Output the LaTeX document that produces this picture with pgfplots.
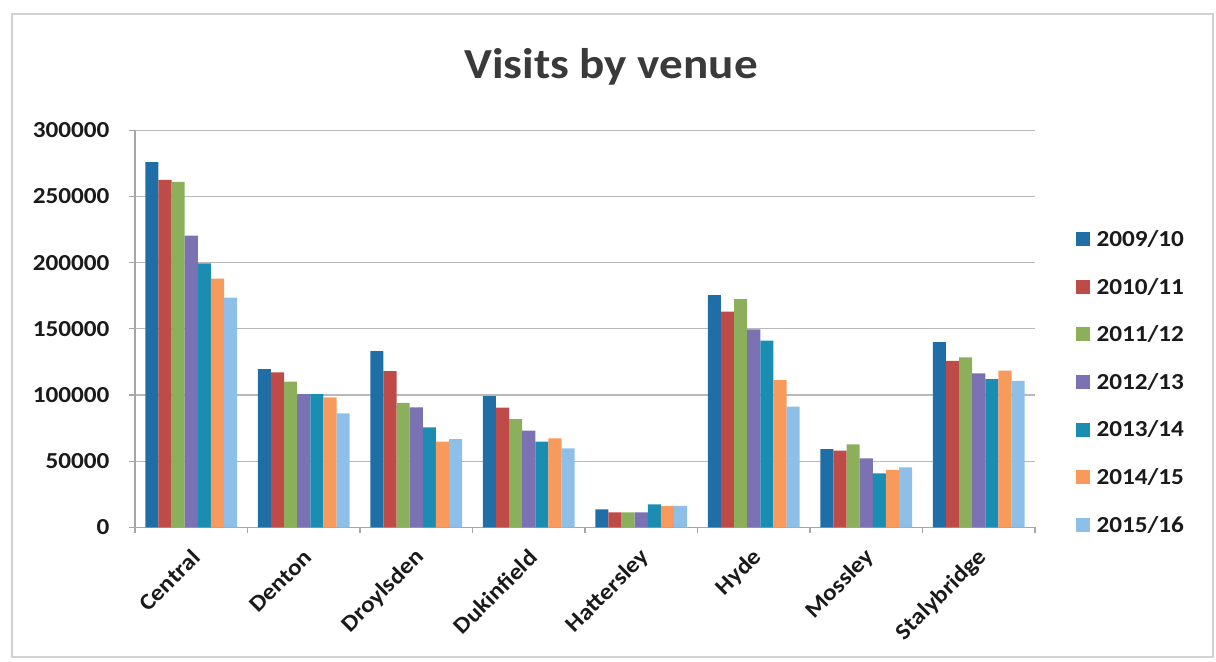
\documentclass[border=0pt]{standalone}
\usepackage{fontspec}
\setmainfont{Carlito}[FakeStretch=1.1]
\usepackage{pgfplots}
\pgfplotsset{compat=1.18}
\usepackage{pgfplotstable}
\definecolor{c1}{HTML}{1F6EA6}
\definecolor{c2}{HTML}{BE4B48}
\definecolor{c3}{HTML}{8CAF5B}
\definecolor{c4}{HTML}{7A72B2}
\definecolor{c5}{HTML}{1B8DB3}
\definecolor{c6}{HTML}{F79A5B}
\definecolor{c7}{HTML}{8DBFE8}
\definecolor{titlegray}{HTML}{3A3A3A}
\definecolor{labelgray}{HTML}{1A1A1A}
\pgfplotsset{
  /pgfplots/ybar legend/.style={/pgfplots/legend image code/.code={\fill[##1] (0bp,-7bp) rectangle (14bp,7bp); \path (19bp,0bp);}},
}
\pgfplotstableread{
x a b c d e f g
0 276000 262500 261000 220500 199500 188000 173500
1 119500 117000 110000 100700 100700 98200 86100
2 133200 118000 94100 90600 75500 64700 66700
3 99200 90400 81800 73000 64700 67200 59700
4 13600 11300 11300 11300 17400 16100 16100
5 175500 162900 172400 149500 141000 111300 91100
6 59100 57900 62700 52100 40800 43300 45300
7 140000 125800 128400 116300 112000 118300 110700
}\data
\begin{document}
\begin{tikzpicture}
\path[use as bounding box] (0,0) rectangle (1216bp,662bp);
\draw[gray!35, line width=1.5bp] (12bp,5bp) rectangle (1213bp,648bp);
\node[font=\fontsize{43}{50}\selectfont\bfseries, text=titlegray, anchor=base, inner sep=0pt] at (611bp,583.7bp) {Visits by venue};
\begin{axis}[
  at={(135bp,134.7bp)}, anchor=south west,
  scale only axis, width=900bp, height=397bp,
  ybar=0pt, bar width=0.1166,
  xmin=-0.5, xmax=7.5, ymin=0, ymax=300000,
  axis x line*=bottom, axis y line*=left,
  axis line style={gray!70, line width=1.2bp},
  ymajorgrids, grid style={gray!55, line width=1.2bp},
  ytick={0,50000,...,300000},
  scaled y ticks=false,
  xtick={-0.5,0.5,...,7.5},
  x tick label as interval=true,
  xticklabels={Central,Denton,Droylsden,Dukinfield,Hattersley,Hyde,Mossley,Stalybridge},
  tick align=outside, major tick length=6bp,
  tick style={gray!70, line width=1.2bp},
  y tick label style={font=\fontsize{23}{27}\selectfont\bfseries, text=labelgray, xshift=-16bp,
    /pgf/number format/.cd, fixed, 1000 sep={}, assume math mode=true},
  x tick label style={font=\fontsize{23}{27}\selectfont\bfseries, text=labelgray, xshift=7bp, yshift=-18bp, rotate=45, anchor=east},
  legend style={at={(1.042,0.366)}, anchor=west, draw=none, fill=none,
    font=\fontsize{23}{27}\selectfont\bfseries, text=labelgray, row sep=27bp,
    nodes={inner sep=1.5bp}},
  legend cell align=left,
]
\addplot[fill=c1, draw=none] table[x=x,y=a]{\data};
\addplot[fill=c2, draw=none] table[x=x,y=b]{\data};
\addplot[fill=c3, draw=none] table[x=x,y=c]{\data};
\addplot[fill=c4, draw=none] table[x=x,y=d]{\data};
\addplot[fill=c5, draw=none] table[x=x,y=e]{\data};
\addplot[fill=c6, draw=none] table[x=x,y=f]{\data};
\addplot[fill=c7, draw=none] table[x=x,y=g]{\data};
\legend{2009/10,2010/11,2011/12,2012/13,2013/14,2014/15,2015/16}
\end{axis}
\end{tikzpicture}
\end{document}
